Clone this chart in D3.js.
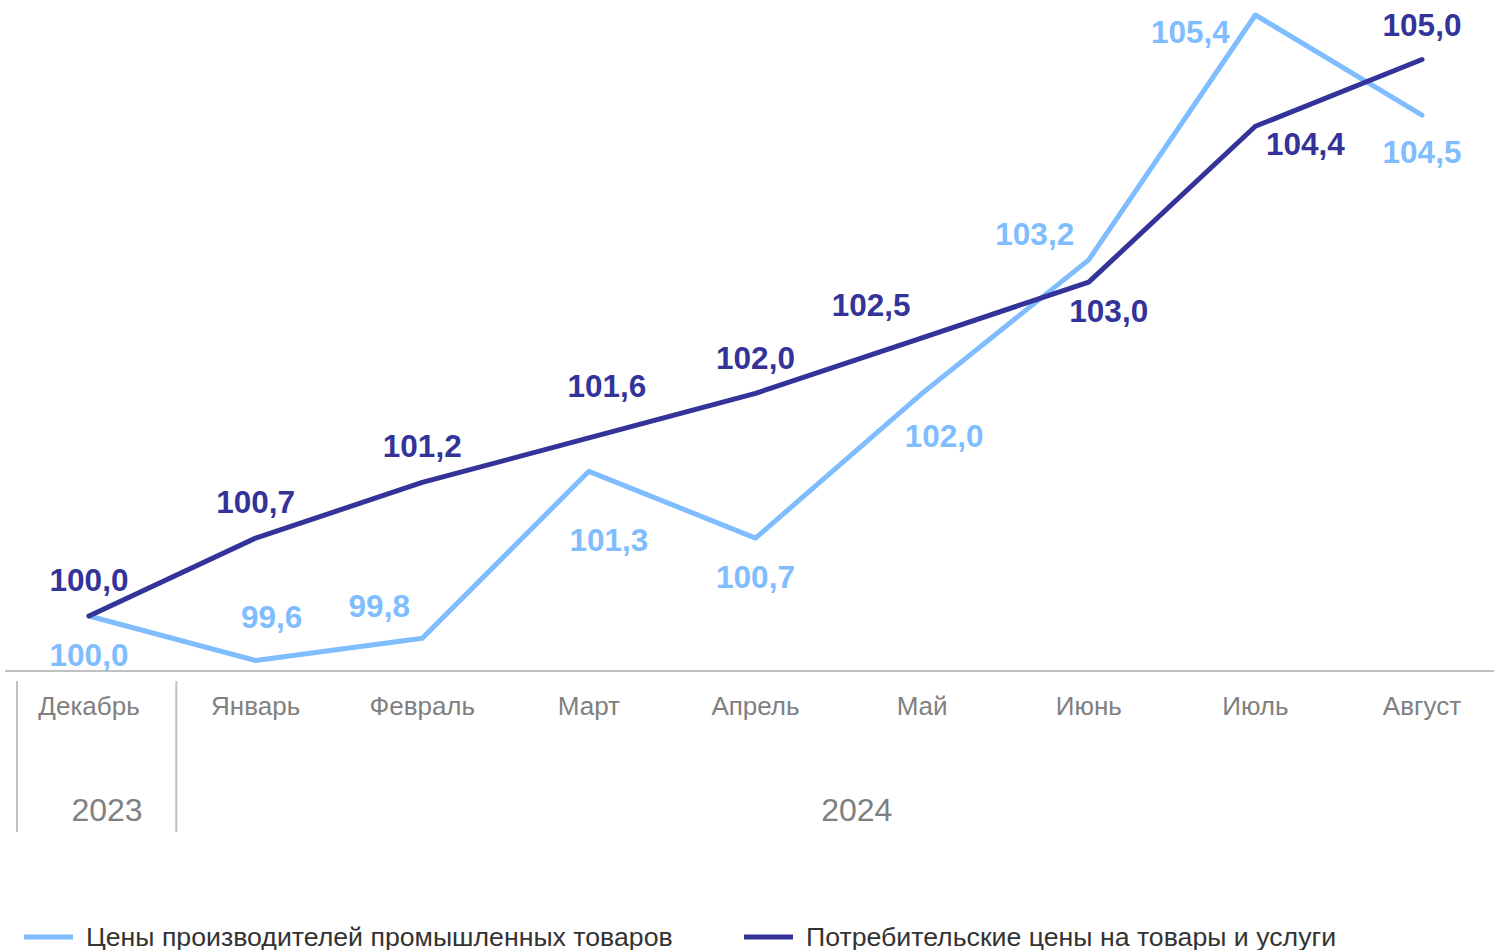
<!DOCTYPE html>
<head>
  <meta charset="utf-8">
  <script src="https://cdn.jsdelivr.net/npm/d3@7"></script>
  <style>
    body { margin: 0; overflow: hidden; background: #fff; }
    svg { display: block; font-family: "Liberation Sans", Arial, sans-serif; }
  </style>
</head>
<body>
  <svg width="1494" height="950"></svg>
  <script>
    // месяцы и годы
    const months = ['Декабрь', 'Январь', 'Февраль', 'Март', 'Апрель', 'Май', 'Июнь', 'Июль', 'Август'];
    const monthYears = ['2023', '2024', '2024', '2024', '2024', '2024', '2024', '2024', '2024'];

    // ряды (декабрь 2023 = 100)
    const producerPrices = [100.0, 99.6, 99.8, 101.3, 100.7, 102.0, 103.2, 105.4, 104.5];
    const consumerPrices = [100.0, 100.7, 101.2, 101.6, 102.0, 102.5, 103.0, 104.4, 105.0];

    const seriesNames = ['Цены производителей промышленных товаров', 'Потребительские цены на товары и услуги'];

    // where each value label sits relative to its point [dx, dy]
    const producerLabelOffsets = [[0, 50], [16, -33], [-43, -21], [20, 80], [0, 50], [22, 54], [-54, -15], [-65, 28], [0, 48]];
    const consumerLabelOffsets = [[0, -25], [0, -25], [0, -25], [18, -41], [0, -24], [-51, -22], [20, 40], [50, 29], [0, -24]];

    const colors = ['#7fbdff', '#333399'];

    const svg = d3.select('svg');
    const fmt = v => d3.format('.1f')(v).replace('.', ',');

    const x = d3.scalePoint().domain(months).range([89, 1422]);
    const y = d3.scaleLinear().domain([100, 105.4]).range([616, 15]);

    // baseline
    svg.append('line')
      .attr('x1', 5).attr('x2', 1494)
      .attr('y1', 671).attr('y2', 671)
      .attr('stroke', '#c0c0c0').attr('stroke-width', 2);

    // month labels
    svg.append('g').selectAll('text').data(months)
      .enter().append('text')
        .attr('x', d => x(d))
        .attr('y', 715)
        .attr('text-anchor', 'middle')
        .attr('font-size', 26)
        .attr('fill', '#808080')
        .text(d => d);

    // year groups
    const years = Array.from(new Set(monthYears));
    const half = x.step() / 2;
    const seps = [x(months[0]) - 72];
    years.forEach(yr => {
      const ms = months.filter((m, i) => monthYears[i] === yr);
      const cx = d3.mean(ms, m => x(m)) + 18;
      svg.append('text')
        .attr('x', cx).attr('y', 821)
        .attr('text-anchor', 'middle')
        .attr('font-size', 32)
        .attr('fill', '#808080')
        .text(yr);
      if (yr !== years[years.length - 1]) seps.push(x(ms[ms.length - 1]) + half + 4);
    });
    svg.append('g').selectAll('line').data(seps)
      .enter().append('line')
        .attr('x1', d => d).attr('x2', d => d)
        .attr('y1', 681).attr('y2', 832)
        .attr('stroke', '#c0c0c0').attr('stroke-width', 2);

    const line = d3.line()
      .x((d, i) => x(months[i]))
      .y(d => y(d));

    const series = [
      { values: producerPrices, offsets: producerLabelOffsets, color: colors[0] },
      { values: consumerPrices, offsets: consumerLabelOffsets, color: colors[1] }
    ];

    series.forEach(s => {
      svg.append('path')
        .datum(s.values)
        .attr('d', line)
        .attr('fill', 'none')
        .attr('stroke', s.color)
        .attr('stroke-width', 5)
        .attr('stroke-linejoin', 'round')
        .attr('stroke-linecap', 'round');
    });

    series.forEach(s => {
      svg.append('g').selectAll('text').data(s.values)
        .enter().append('text')
          .attr('x', (d, i) => x(months[i]) + s.offsets[i][0])
          .attr('y', (d, i) => y(d) + s.offsets[i][1])
          .attr('text-anchor', 'middle')
          .attr('font-size', 31.5)
          .attr('font-weight', 'bold')
          .attr('fill', s.color)
          .text(d => fmt(d));
    });

    // legend
    const legendX = [24, 744];
    seriesNames.forEach((name, i) => {
      const g = svg.append('g').attr('transform', `translate(${legendX[i]},937)`);
      g.append('line')
        .attr('x1', 0).attr('x2', 49)
        .attr('stroke', colors[i]).attr('stroke-width', 5);
      g.append('text')
        .attr('x', 62).attr('y', 9)
        .attr('font-size', 26.7)
        .attr('fill', '#333')
        .text(name);
    });
  </script>
</body>
